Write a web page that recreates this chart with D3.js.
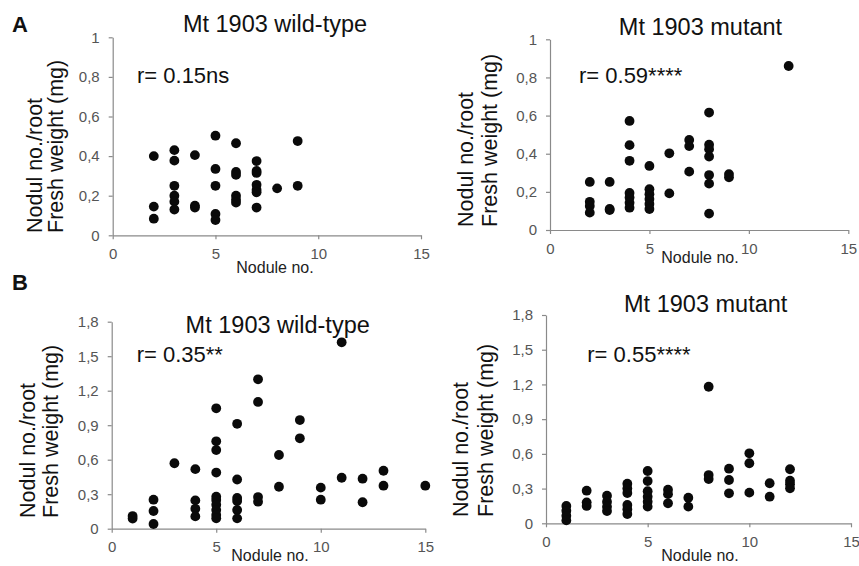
<!DOCTYPE html>
<html>
<head>
<meta charset="utf-8">
<script src="https://cdn.jsdelivr.net/npm/d3@7"></script>
<style>
  html, body { margin: 0; padding: 0; background: #fff; }
  svg { display: block; }
  text { font-family: "Liberation Sans", Arial, Helvetica, sans-serif; }
</style>
</head>
<body>
<svg id="chart" width="859" height="566"></svg>
<script>
// ---------- DATA ----------
const xTicks = [0, 5, 10, 15];
const yTicksA = [0, 0.2, 0.4, 0.6, 0.8, 1];
const yTicksB = [0, 0.3, 0.6, 0.9, 1.2, 1.5, 1.8];

const titles = ["Mt 1903 wild-type", "Mt 1903 mutant", "Mt 1903 wild-type", "Mt 1903 mutant"];
const rLabels = ["r= 0.15ns", "r= 0.59****", "r= 0.35**", "r= 0.55****"];
const panelLetters = ["A", "B"];
const yLabelLines = ["Nodul no./root", "Fresh weight (mg)"];
const xLabel = "Nodule no.";

// [nodule no., nodule no./root fresh weight]
const aWildType = [
  [2,0.40],[2,0.145],[2,0.084],
  [3,0.43],[3,0.377],[3,0.25],[3,0.20],[3,0.17],[3,0.13],
  [4,0.405],[4,0.15],[4,0.14],
  [5,0.503],[5,0.335],[5,0.25],[5,0.108],[5,0.077],
  [6,0.465],[6,0.32],[6,0.305],[6,0.20],[6,0.18],[6,0.165],
  [7,0.375],[7,0.325],[7,0.315],[7,0.255],[7,0.23],[7,0.217],[7,0.14],
  [8,0.237],
  [9,0.476],[9,0.25]
];
const aMutant = [
  [2,0.252],[2,0.148],[2,0.126],[2,0.091],
  [3,0.252],[3,0.11],[3,0.105],
  [4,0.572],[4,0.445],[4,0.363],[4,0.194],[4,0.17],[4,0.143],[4,0.117],
  [5,0.336],[5,0.214],[5,0.188],[5,0.162],[5,0.136],[5,0.11],
  [6,0.402],[6,0.192],
  [7,0.472],[7,0.44],[7,0.306],
  [8,0.616],[8,0.447],[8,0.424],[8,0.385],[8,0.288],[8,0.243],[8,0.086],
  [9,0.293],[9,0.276],
  [12,0.86]
];
const bWildType = [
  [1,0.11],[1,0.088],
  [2,0.252],[2,0.154],[2,0.041],
  [3,0.569],
  [4,0.518],[4,0.246],[4,0.173],[4,0.107],
  [5,1.047],[5,0.76],[5,0.684],[5,0.488],[5,0.278],[5,0.25],[5,0.208],[5,0.162],[5,0.119],[5,0.09],
  [6,0.912],[6,0.428],[6,0.268],[6,0.241],[6,0.163],[6,0.09],
  [7,1.299],[7,1.102],[7,0.275],[7,0.235],
  [8,0.641],[8,0.365],
  [9,0.945],[9,0.786],
  [10,0.357],[10,0.252],
  [11,1.621],[11,0.443],
  [12,0.435],[12,0.23],
  [13,0.504],[13,0.374],
  [15,0.374]
];
const bMutant = [
  [1,0.15],[1,0.108],[1,0.065],[1,0.025],
  [2,0.282],[2,0.181],[2,0.15],
  [3,0.239],[3,0.187],[3,0.144],[3,0.106],
  [4,0.342],[4,0.30],[4,0.262],[4,0.158],[4,0.121],[4,0.08],
  [5,0.452],[5,0.365],[5,0.278],[5,0.23],[5,0.187],[5,0.144],
  [6,0.29],[6,0.252],[6,0.173],
  [7,0.221],[7,0.144],
  [8,1.18],[8,0.417],[8,0.383],
  [9,0.472],[9,0.374],[9,0.259],
  [10,0.605],[10,0.519],[10,0.265],
  [11,0.346],[11,0.23],
  [12,0.467],[12,0.368],[12,0.337],[12,0.302]
];

// ---------- LAYOUT ----------
const panels = [
  { data: aWildType, yMax: 1,   yTicks: yTicksA, xr: [112.7, 421],   yr: [235.3, 37.3],
    title: [275, 32], r: [137, 83.3], yl: [42, 63, 233], xl: [275, 273] },
  { data: aMutant,   yMax: 1,   yTicks: yTicksA, xr: [550, 848.3],   yr: [230, 39.3],
    title: [700.5, 35], r: [579, 83.3], yl: [472.5, 496.5, 227], xl: [700, 263] },
  { data: bWildType, yMax: 1.8, yTicks: yTicksB, xr: [111.7, 425.3], yr: [528.7, 321.7],
    title: [277.7, 333.3], r: [136.7, 361.7], yl: [35, 58, 518], xl: [270, 561] },
  { data: bMutant,   yMax: 1.8, yTicks: yTicksB, xr: [546, 851],     yr: [523.3, 315],
    title: [705.7, 311.7], r: [587.3, 361.7], yl: [468, 492.5, 517], xl: [700, 561] }
];

const svg = d3.select("#chart");
const fmt = d => (Math.round(d * 10) / 10).toString().replace(".", ",");

panels.forEach((p, i) => {
  const x = d3.scaleLinear().domain([0, 15]).range(p.xr);
  const y = d3.scaleLinear().domain([0, p.yMax]).range(p.yr);
  const g = svg.append("g");

  const xAxis = g.append("g")
    .attr("transform", `translate(0,${p.yr[0]})`)
    .call(d3.axisBottom(x).tickValues(xTicks).tickSize(4).tickSizeOuter(0).tickPadding(9));
  const yAxis = g.append("g")
    .attr("transform", `translate(${p.xr[0]},0)`)
    .call(d3.axisLeft(y).tickValues(p.yTicks).tickFormat(fmt).tickSize(4).tickSizeOuter(0).tickPadding(9));

  [xAxis, yAxis].forEach(a => {
    a.select(".domain").attr("stroke", "#8a8a8a").attr("stroke-width", 1.2);
    a.selectAll(".tick line").attr("stroke", "#8a8a8a").attr("stroke-width", 1.2);
    a.selectAll(".tick text").attr("fill", "#555").style("font-size", "15px")
      .style("font-family", "'Liberation Sans', Arial, sans-serif");
  });

  g.selectAll("circle.pt").data(p.data).enter().append("circle")
    .attr("class", "pt")
    .attr("cx", d => x(d[0]))
    .attr("cy", d => y(d[1]))
    .attr("r", 4.9)
    .attr("fill", "#0a0a0a");

  g.append("text").attr("x", p.title[0]).attr("y", p.title[1])
    .attr("text-anchor", "middle").style("font-size", "23.5px").attr("fill", "#111")
    .text(titles[i]);

  g.append("text").attr("x", p.r[0]).attr("y", p.r[1])
    .style("font-size", "22px").attr("fill", "#111")
    .text(rLabels[i]);

  yLabelLines.forEach((line, k) => {
    g.append("text")
      .attr("transform", `translate(${p.yl[k]},${p.yl[2]}) rotate(-90)`)
      .style("font-size", "21.5px").attr("fill", "#111")
      .text(line);
  });

  g.append("text").attr("x", p.xl[0]).attr("y", p.xl[1])
    .attr("text-anchor", "middle").style("font-size", "16px").attr("fill", "#222")
    .text(xLabel);
});

svg.append("text").attr("x", 12).attr("y", 32).style("font-size", "22px")
  .style("font-weight", "bold").attr("fill", "#111").text(panelLetters[0]);
svg.append("text").attr("x", 12).attr("y", 290).style("font-size", "22px")
  .style("font-weight", "bold").attr("fill", "#111").text(panelLetters[1]);
</script>
</body>
</html>
